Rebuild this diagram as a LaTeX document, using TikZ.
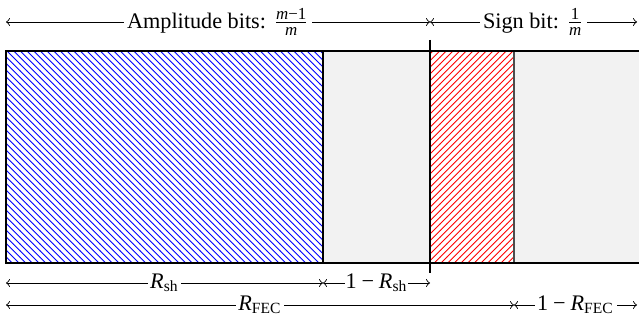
\documentclass[tikz,border=0pt]{standalone}
\usepackage{amsmath}
\usepackage{fontspec}
\setmainfont{Liberation Serif}
\usetikzlibrary{patterns}
\newcommand{\mmin}{\kern0.22em−\kern0.22em}
\newcommand{\ffr}[2]{$\genfrac{}{}{0.4pt}{1}{\text{\fontsize{7.6}{8}\selectfont #1}}{\text{\fontsize{7.6}{8}\selectfont #2}}$}
\begin{document}
\begin{tikzpicture}[x=0.45pt,y=-0.45pt,
  dim/.style={<->, line width=0.4pt},
  lbl/.style={fill=white, inner sep=1.2pt, font=\fontsize{10}{12}\selectfont},
  frame/.style={line width=0.8pt}]
\useasboundingbox (0,0) rectangle (639,324);
% key coordinates
\coordinate (bl) at (6,263);
\coordinate (tl) at (6,51);
\coordinate (sh) at (323,51);
\coordinate (shb) at (323,263);
\coordinate (rs) at (430,51);
\coordinate (rsb) at (514,263);
\coordinate (tr) at (639,51);
\coordinate (br) at (639,263);
\coordinate (vt) at (430,40);
\coordinate (vb) at (430,273);
% fills
\fill[gray!10] (sh) rectangle (br);
\fill[white] (rs) rectangle (rsb);
\fill[pattern=north west lines, pattern color=blue] (tl) rectangle (shb);
\fill[pattern=north east lines, pattern color=red] (rs) rectangle (rsb);
\draw[line width=0.5pt] (tl) rectangle (shb);
\draw[black!70, line width=0.6pt] (514,51) -- (rsb);
\draw[frame] (tl) -- (tr);
\draw[frame] (bl) -- (br);
\draw[frame] (tl) -- (bl);
\draw[line width=0.9pt] (vt) -- (vb);
% dimension coordinates
\coordinate (a0) at (6,22);
\coordinate (a1) at (430,22);
\coordinate (a2) at (637,22);
\coordinate (b0) at (6,283);
\coordinate (b1) at (323,283);
\coordinate (b2) at (430,283);
\coordinate (c0) at (6,305);
\coordinate (c1) at (514,305);
\coordinate (c2) at (637,305);
\draw[dim] (a0) -- node[lbl] (amp) {Amplitude bits: \ffr{\textit{m}−1}{\textit{m}}} (a1);
\draw[dim] (a1) -- node[lbl] (sgn) {Sign bit: \ffr{1}{\textit{m}}} (a2);
\draw[dim] (b0) -- node[lbl] (rsh) {\textit{R}\textsubscript{sh}} (b1);
\draw[dim] (b1) -- node[lbl, inner sep=0.3pt] (orsh) {1\mmin\textit{R}\textsubscript{sh}} (b2);
\draw[dim] (c0) -- node[lbl] (rfec) {\textit{R}\textsubscript{FEC}} (c1);
\draw[dim] (c1) -- node[lbl] (orfec) {1\mmin\textit{R}\textsubscript{FEC}} (c2);
\end{tikzpicture}
\end{document}
